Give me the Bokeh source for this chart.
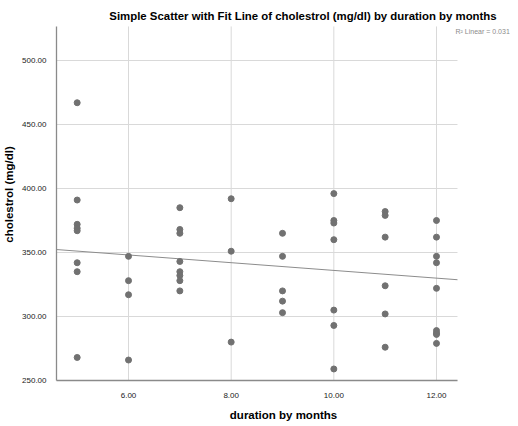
from bokeh.plotting import figure
from bokeh.models import Range1d, FixedTicker, PrintfTickFormatter, Label
from bokeh.embed import file_html
from bokeh.resources import INLINE

# data
duration = [5, 5, 5, 5, 5, 5, 5, 5,
            6, 6, 6, 6,
            7, 7, 7, 7, 7, 7, 7, 7,
            8, 8, 8,
            9, 9, 9, 9, 9,
            10, 10, 10, 10, 10, 10, 10,
            11, 11, 11, 11, 11, 11,
            12, 12, 12, 12, 12, 12, 12, 12, 12]
cholestrol = [467, 391, 372, 369, 367, 342, 335, 268,
              347, 328, 317, 266,
              385, 368, 365, 343, 335, 332, 328, 320,
              392, 351, 280,
              365, 347, 320, 312, 303,
              396, 375, 373, 360, 305, 293, 259,
              382, 379, 362, 324, 302, 276,
              375, 362, 347, 342, 322, 289, 287, 286, 279]
fit_intercept = 366.2
fit_slope = -3.02
r2_text = "R\u00b2 Linear = 0.031"
x_ticks = [6, 8, 10, 12]
y_ticks = [250, 300, 350, 400, 450, 500]
title_text = "Simple Scatter with Fit Line of cholestrol (mg/dl) by duration by months"

FONT = "Liberation Sans"

# plotting-area bounds (axes extent) and the wider frame that also holds the texts
X_LO, X_HI = 4.597, 12.409
Y_LO, Y_HI = 250.0, 526.6
PX_PER_X = 51.33
PX_PER_Y = 1.28
FRAME_W, FRAME_H = 454, 372

p = figure(frame_width=FRAME_W, frame_height=FRAME_H, output_backend="svg",
           toolbar_location=None,
           x_range=Range1d(X_LO, X_LO + FRAME_W / PX_PER_X),
           y_range=Range1d(Y_LO, Y_LO + FRAME_H / PX_PER_Y),
           min_border_left=48, min_border_right=0, min_border_top=8,
           min_border_bottom=38)
p.outline_line_color = None
p.background_fill_color = "white"
p.xgrid.visible = False
p.ygrid.visible = False

for ax in (p.xaxis[0], p.yaxis[0]):
    ax.formatter = PrintfTickFormatter(format="%.2f")
    ax.major_tick_line_color = None
    ax.minor_tick_line_color = None
    ax.axis_line_color = "#8a8a8a"
    ax.axis_line_width = 1.3
    ax.major_label_text_font = FONT
    ax.major_label_text_font_size = "8px"
    ax.major_label_text_color = "#222222"
    ax.axis_label_text_font = FONT
    ax.axis_label_text_font_size = "11.5px"
    ax.axis_label_text_font_style = "bold"
    ax.axis_label_text_color = "#000000"

p.xaxis[0].ticker = FixedTicker(ticks=x_ticks)
p.yaxis[0].ticker = FixedTicker(ticks=y_ticks)
p.xaxis[0].bounds = (X_LO, X_HI)
p.yaxis[0].bounds = (Y_LO, Y_HI)
p.xaxis[0].axis_label = "duration by months"
p.yaxis[0].axis_label = "cholestrol (mg/dl)"
p.xaxis[0].major_label_standoff = 6
p.yaxis[0].major_label_standoff = 4
p.xaxis[0].axis_label_standoff = 8
p.yaxis[0].axis_label_standoff = 4

# grid lines limited to the plotting area
grid_color = "#d9d9d9"
p.segment(x0=x_ticks, x1=x_ticks, y0=[Y_LO] * len(x_ticks), y1=[Y_HI] * len(x_ticks),
          line_color=grid_color, line_width=1, level="underlay")
p.segment(x0=[X_LO] * len(y_ticks), x1=[X_HI] * len(y_ticks), y0=y_ticks, y1=y_ticks,
          line_color=grid_color, line_width=1, level="underlay")

# linear fit line across the plotting area
fit_x = [X_LO, X_HI]
fit_y = [fit_intercept + fit_slope * v for v in fit_x]
p.line(fit_x, fit_y, line_color="#8c8c8c", line_width=1)

p.scatter(duration, cholestrol, size=6, fill_color="#717171", line_color="#717171")

p.add_layout(Label(x=X_LO + 246.5 / PX_PER_X, y=Y_LO + 365 / PX_PER_Y, text=title_text,
                   text_align="center", text_baseline="middle", text_font=FONT,
                   text_font_size="11.4px", text_font_style="bold", text_color="#000000"))
p.add_layout(Label(x=X_LO + 399 / PX_PER_X, y=Y_LO + 349 / PX_PER_Y, text=r2_text,
                   text_align="left", text_baseline="middle", text_font=FONT,
                   text_font_size="7px", text_color="#8c8c8c"))

open("out.html", "w").write(file_html(p, INLINE))
